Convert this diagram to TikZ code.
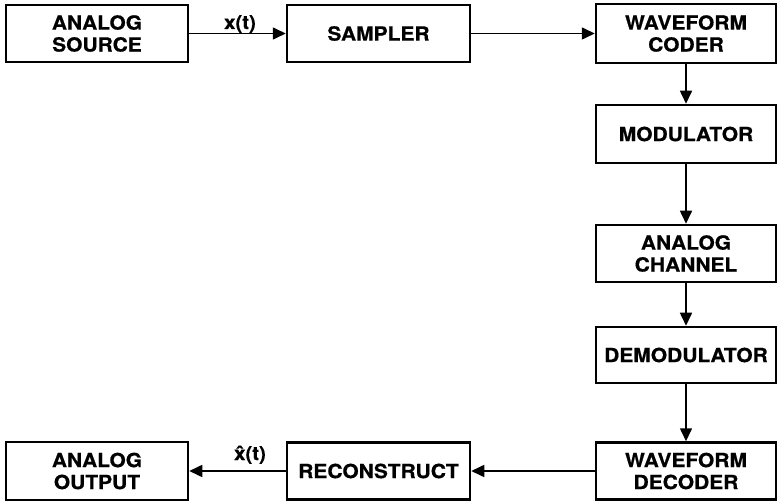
\documentclass[tikz,border=0pt]{standalone}
\usepackage{fontspec}
\setmainfont{TeX Gyre Heros}[FakeStretch=1.08,FakeBold=0.6]
\usetikzlibrary{arrows.meta}
\begin{document}
\begin{tikzpicture}[x=1bp,y=-1bp,
  blk/.style={draw,line width=2.5bp,minimum width=182bp,minimum height=57bp,inner sep=0pt,
    align=center,font=\fontsize{19.5}{22}\selectfont\bfseries},
  conn/.style={line width=1.6bp,-{Triangle[length=13bp,width=12bp]}},
  lbl/.style={font=\fontsize{19}{22}\selectfont\bfseries,anchor=base,inner sep=0pt}]
\useasboundingbox (0,0) rectangle (777,504);
\node[blk] (src) at (97,33.5) {ANALOG\\SOURCE};
\node[blk,minimum width=183bp] (samp) at (378.5,33.5) {SAMPLER};
\node[blk,minimum width=180bp,minimum height=59bp] (coder) at (686,33.5) {WAVEFORM\\CODER};
\node[blk,minimum width=180bp,minimum height=58bp] (mod) at (686,134) {MODULATOR};
\node[blk,minimum width=180bp] (chan) at (686,253.5) {ANALOG\\CHANNEL};
\node[blk,minimum width=180bp,minimum height=56bp] (demod) at (686,355) {DEMODULATOR};
\node[blk,minimum width=180bp,minimum height=57bp] (dec) at (686,471) {WAVEFORM\\DECODER};
\node[blk,minimum width=183bp] (rec) at (378.5,471) {RECONSTRUCT};
\node[blk,minimum height=58bp] (out) at (97,471) {ANALOG\\OUTPUT};
\draw[conn] (src) -- (samp);
\draw[conn] (samp) -- (coder);
\draw[conn] (coder) -- (mod);
\draw[conn] (mod) -- (chan);
\draw[conn] (chan) -- (demod);
\draw[conn] (demod) -- (dec);
\draw[conn] (dec) -- (rec);
\draw[conn] (rec) -- (out);
\node[lbl] (xt) at (240,29) {x(t)};
\node[lbl] (xht) at (250,460) {\^{x}(t)};
\end{tikzpicture}
\end{document}
